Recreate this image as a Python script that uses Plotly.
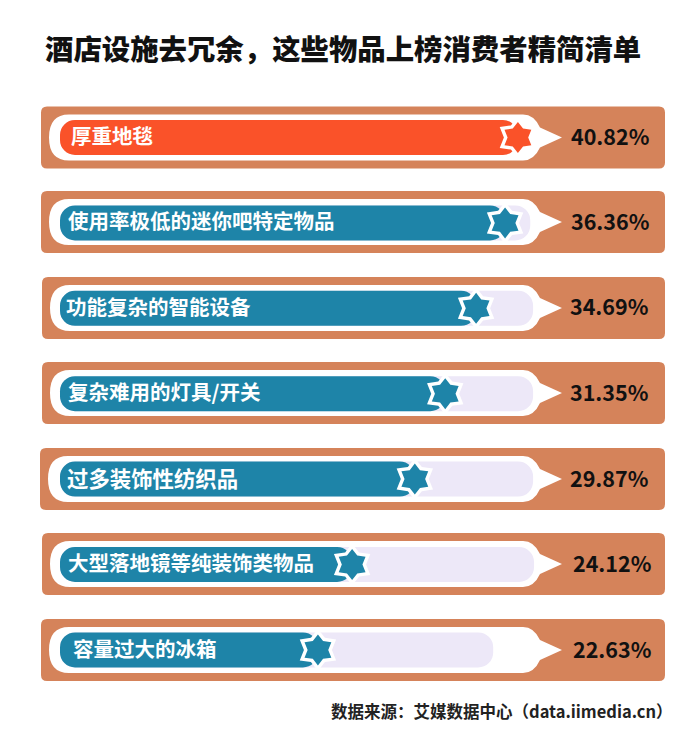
import math
import plotly.graph_objects as go

# chart values, fill and track lengths (axis: 100 = full track)
categories = ['厚重地毯', '使用率极低的迷你吧特定物品', '功能复杂的智能设备', '复杂难用的灯具/开关',
              '过多装饰性纺织品', '大型落地镜等纯装饰类物品', '容量过大的冰箱']
value_labels = ['40.82%', '36.36%', '34.69%', '31.35%', '29.87%', '24.12%', '22.63%']
fill_lengths = [96.4, 93.7, 87.6, 81.1, 74.7, 61.5, 54.3]
track_lengths = [96.4, 99.0, 99.6, 99.6, 99.6, 99.8, 91.2]

title_text = '酒店设施去冗余，这些物品上榜消费者精简清单'
source_text = '数据来源：艾媒数据中心（data.iimedia.cn）'

# the page keeps its 8px body margin, so the figure is smaller than the window
PAGE = 8
W, H = 684, 718
FONT = 'Noto Sans CJK SC'
ORANGE = '#D5835A'
RED = '#FA5229'
BLUE = '#1E84A8'
TRACK = '#EDE8F8'

# layout of the rows in page pixels
row_centers = [137.5, 222, 308, 393, 479, 564, 650]
panel_left = [41, 41, 42, 42, 40, 42, 41]
label_left = [68.5, 65.5, 63.5, 65.5, 64.5, 65.5, 70.5]
label_size = [20.5, 20.5, 20.5, 20.5, 21.4, 20.5, 20.5]
value_left = [569, 569, 568, 568, 568, 571, 571]
row_step = 85.4
px_per_unit = 4.75
track_left = 60

bar_colors = [RED] + [BLUE] * 6


def px(x):
    return (x - PAGE) / W


def py_(y):
    return 1 - (y - PAGE) / H


def panel_path(left, c):
    l, r, t, b = left, 665, c - 31, c + 31
    k = 6
    pts = f'M{px(l + k)},{py_(t)} L{px(r - k)},{py_(t)} Q{px(r)},{py_(t)} {px(r)},{py_(t + k)} '
    pts += f'L{px(r)},{py_(b - k)} Q{px(r)},{py_(b)} {px(r - k)},{py_(b)} '
    pts += f'L{px(l + k)},{py_(b)} Q{px(l)},{py_(b)} {px(l)},{py_(b - k)} '
    pts += f'L{px(l)},{py_(t + k)} Q{px(l)},{py_(t)} {px(l + k)},{py_(t)} Z'
    return pts


def bubble_path(left, c):
    l, t, b = left + 8, c - 23, c + 23
    k = 20
    pts = f'M{px(l + k)},{py_(t)} L{px(523)},{py_(t)} Q{px(534)},{py_(t)} {px(540)},{py_(c - 10)} '
    pts += f'L{px(562)},{py_(c)} L{px(540)},{py_(c + 10)} Q{px(534)},{py_(b)} {px(523)},{py_(b)} '
    pts += f'L{px(l + k)},{py_(b)} Q{px(l)},{py_(b)} {px(l)},{py_(c)} Q{px(l)},{py_(t)} {px(l + k)},{py_(t)} Z'
    return pts


def star_path(outer, inner):
    # six points, one straight up, in pixels round the anchor
    pts = []
    for k in range(12):
        r = outer if k % 2 == 0 else inner
        a = math.radians(90 + 30 * k)
        pts.append(f'{r * math.cos(a):.2f},{r * math.sin(a):.2f}')
    return 'M' + ' L'.join(pts) + ' Z'


fig = go.Figure()

# giving base=0 makes plotly round both ends of the bars
fig.add_trace(go.Bar(y=categories, x=track_lengths, base=0, orientation='h', width=0.41,
                     marker=dict(color=TRACK, cornerradius=15, line_width=0), hoverinfo='skip'))
fig.add_trace(go.Bar(y=categories, x=fill_lengths, base=0, orientation='h', width=0.41,
                     marker=dict(color=bar_colors, cornerradius=15, line_width=0)))

shapes = []
for left, c in zip(panel_left, row_centers):
    shapes.append(dict(type='path', xref='paper', yref='paper', layer='below', path=panel_path(left, c),
                       fillcolor=ORANGE, line_width=0))
    shapes.append(dict(type='path', xref='paper', yref='paper', layer='below', path=bubble_path(left, c),
                       fillcolor='white', line_width=0))

# star at the end of each bar, anchored on the axes with its size in pixels
for i in range(len(categories)):
    for outer, inner, color in [(21, 14, 'white'), (15.5, 10.3, bar_colors[i])]:
        shapes.append(dict(type='path', xref='x', yref='y', xsizemode='pixel', ysizemode='pixel',
                           xanchor=fill_lengths[i], yanchor=categories[i], path=star_path(outer, inner),
                           fillcolor=color, line_width=0, layer='above'))

annotations = [
    dict(text=title_text, x=px(342.5), y=py_(47.5), xref='paper', yref='paper', yanchor='middle', showarrow=False,
         font=dict(family=FONT, size=28.4, color='#111111', weight=900)),
    dict(text=source_text, x=px(675), y=py_(711), xref='paper', yref='paper', xanchor='right', yanchor='middle',
         showarrow=False, font=dict(family=FONT, size=16.5, color='#222222', weight=700)),
]
for i in range(len(categories)):
    annotations.append(dict(text=categories[i], x=px(label_left[i]), y=py_(row_centers[i] - 2),
                            xref='paper', yref='paper', xanchor='left', yanchor='middle', showarrow=False,
                            font=dict(family=FONT, size=label_size[i], color='white', weight=700)))
    annotations.append(dict(text=value_labels[i], x=px(value_left[i]), y=py_(row_centers[i] - 2),
                            xref='paper', yref='paper', xanchor='left', yanchor='middle', showarrow=False,
                            font=dict(family=FONT, size=21.5, color='#111111', weight=700)))

fig.update_layout(
    width=W, height=H, margin=dict(l=0, r=0, t=0, b=0, pad=0),
    barmode='overlay', showlegend=False,
    paper_bgcolor='white', plot_bgcolor='rgba(0,0,0,0)',
    shapes=shapes, annotations=annotations,
    xaxis=dict(visible=False, range=[-(track_left - PAGE) / px_per_unit, (W + PAGE - track_left) / px_per_unit]),
    yaxis=dict(visible=False, categoryorder='array', categoryarray=categories,
               range=[(H + PAGE - row_centers[0]) / row_step, (PAGE - row_centers[0]) / row_step]),
)

fig.write_html('out.html')
